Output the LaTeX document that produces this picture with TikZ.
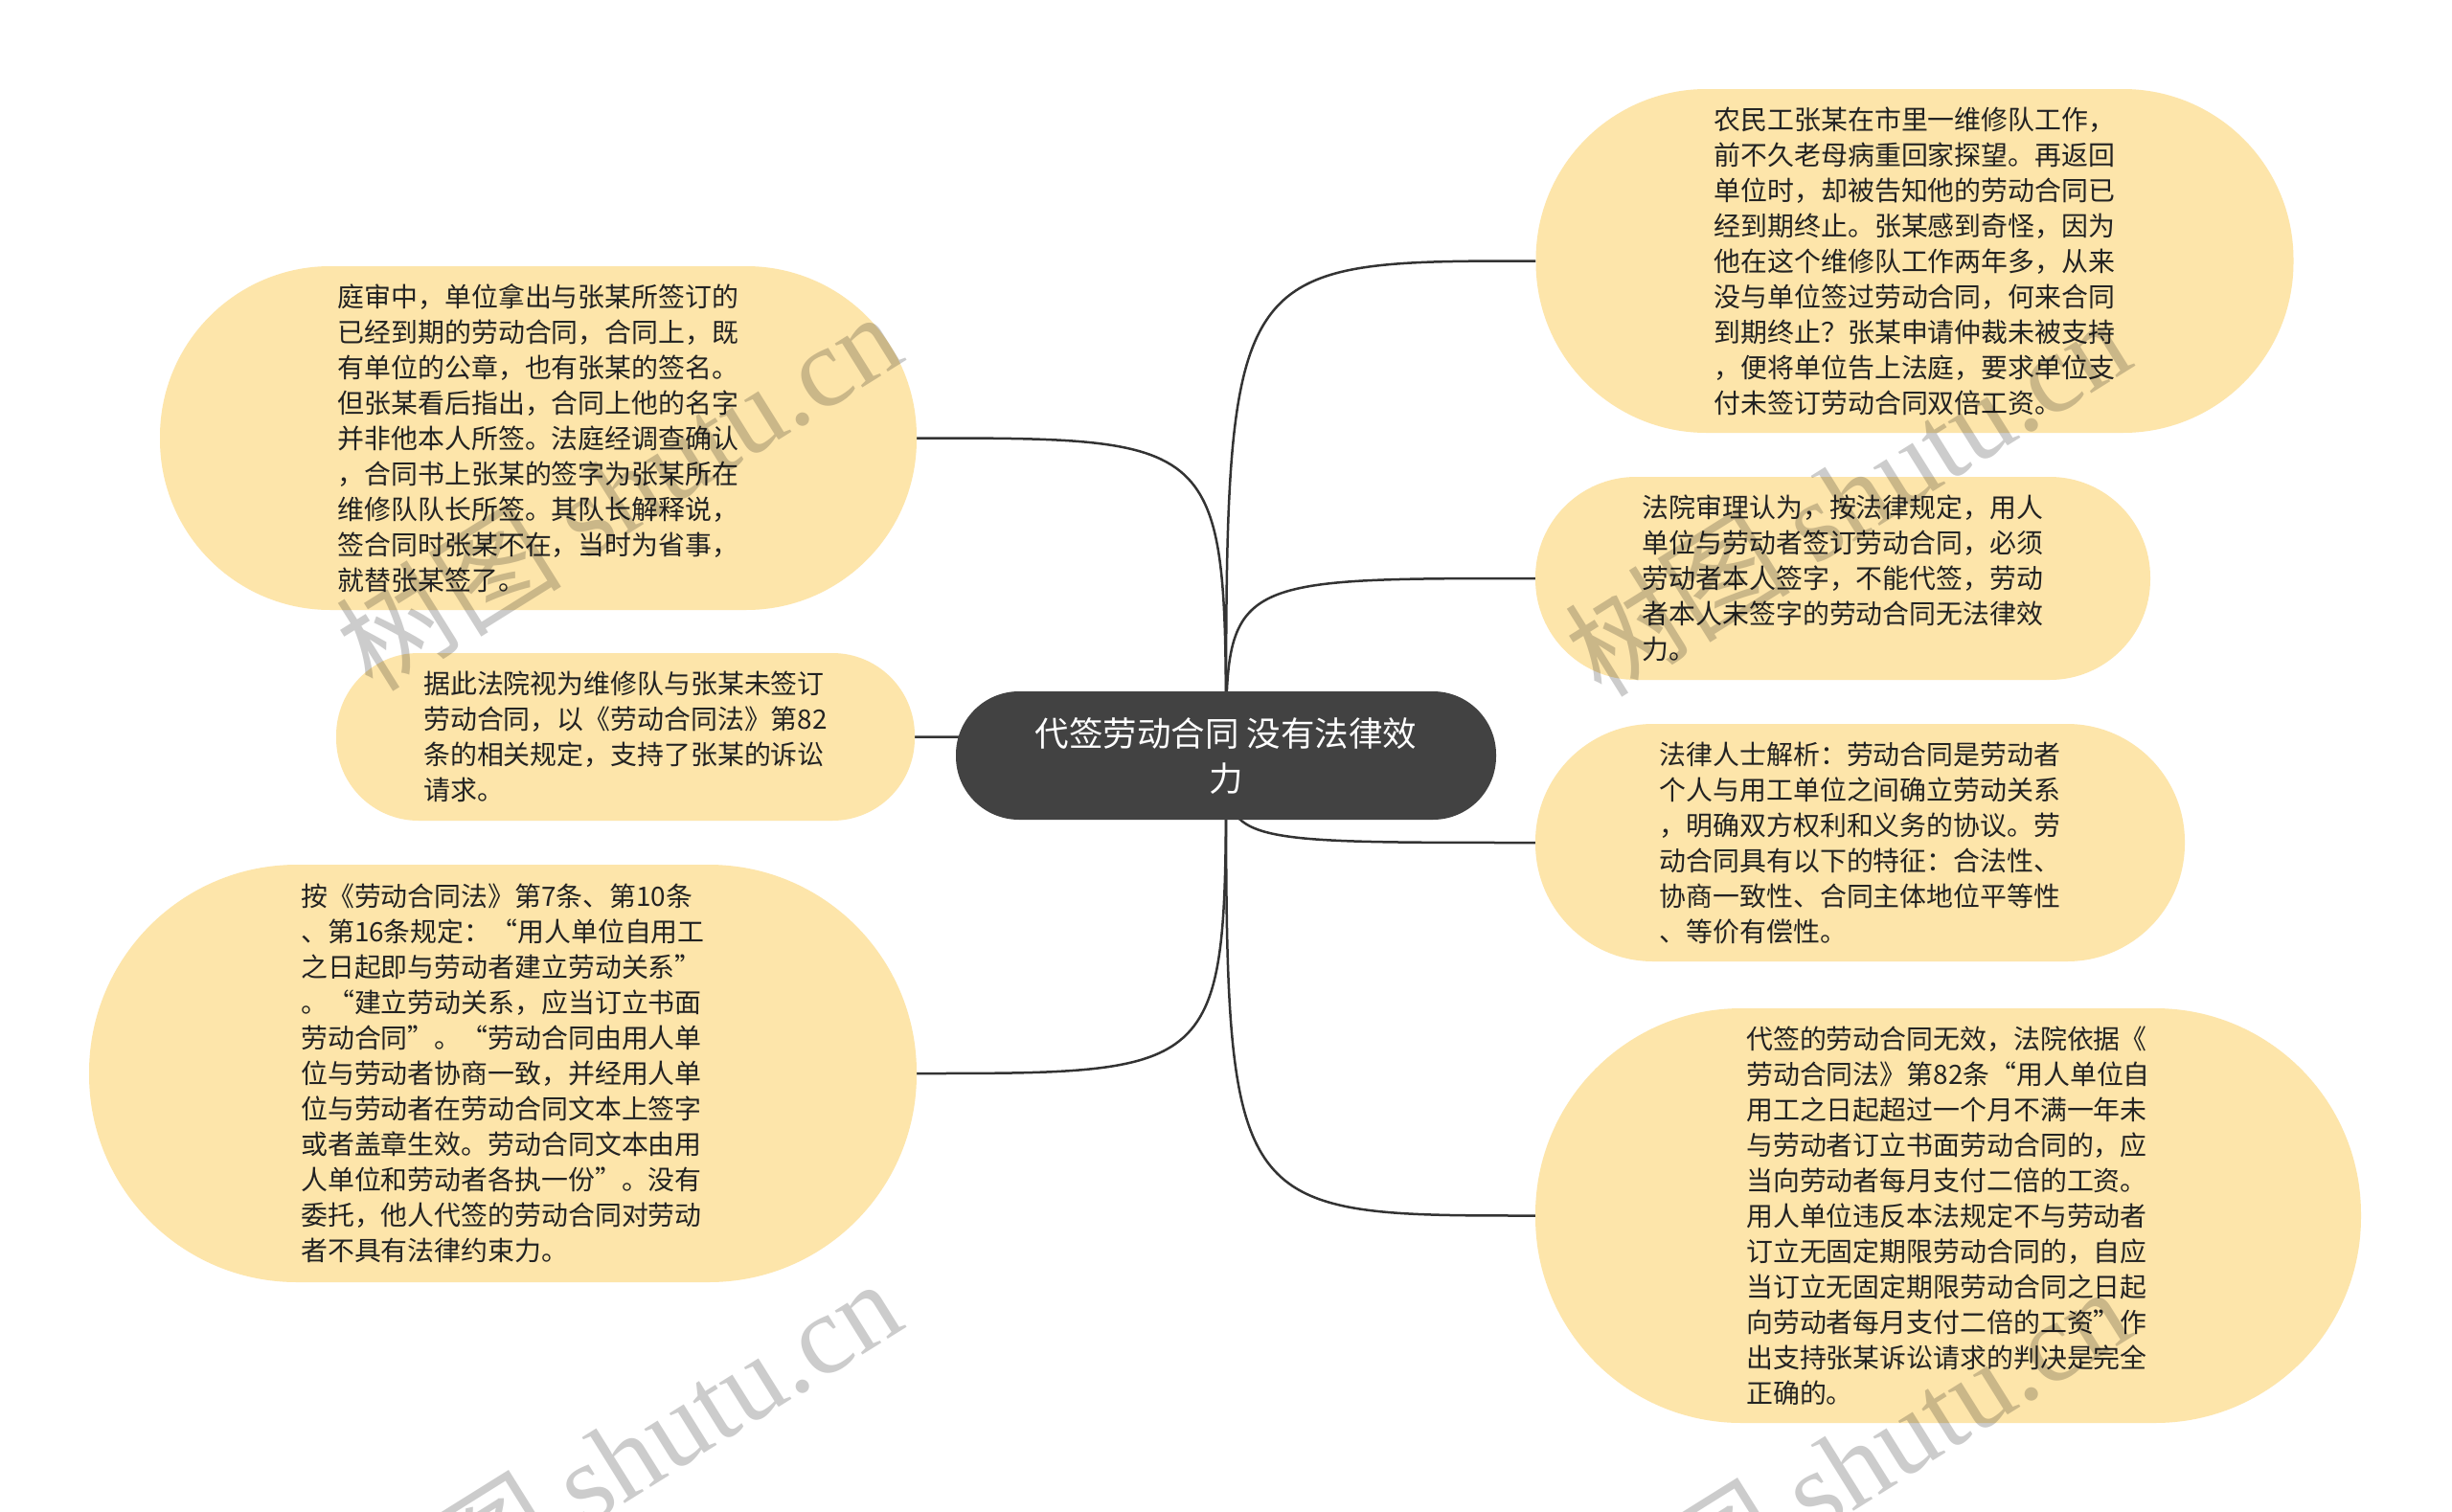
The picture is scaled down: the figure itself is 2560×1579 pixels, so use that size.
\documentclass[tikz,border=0pt]{standalone}
\usepackage{fontspec}
\setmainfont{Noto Sans CJK SC}
\newfontfamily\wmserif{Liberation Serif}
\usetikzlibrary{backgrounds}
\definecolor{nodefill}{RGB}{253,229,170}
\definecolor{rootfill}{RGB}{66,66,66}
\definecolor{linecol}{RGB}{51,51,51}
\definecolor{txtcol}{RGB}{34,34,34}
\begin{document}
\begin{tikzpicture}[x=1pt,y=-1pt,
  leaf/.style={rectangle, fill=nodefill, text=txtcol, align=left, inner sep=0pt,
    font=\fontsize{27.9}{37}\selectfont},
  root/.style={rectangle, fill=rootfill, text=white, align=center, inner sep=0pt,
    font=\fontsize{35.5}{47}\selectfont, minimum width=564pt, minimum height=134pt,
    rounded corners=66pt},
  link/.style={draw=linecol, line width=2.5pt},
  wm/.style={rotate=32, text=black, opacity=0.2, inner sep=0pt,
    font=\fontsize{118}{118}\selectfont}]
\useasboundingbox (0,0) rectangle (2560,1579);
\clip (0,0) rectangle (2560,1579);

\node[root] (c) at (1280,789) {代签劳动合同 没有法律效\\力};

\node[leaf, minimum width=791pt, minimum height=359pt, rounded corners=178pt] (tr) at (1999,272.5)
{农民工张某在市里一维修队工作，\\前不久老母病重回家探望。再返回\\单位时，却被告知他的劳动合同已\\经到期终止。张某感到奇怪，因为\\他在这个维修队工作两年多，从来\\没与单位签过劳动合同，何来合同\\到期终止？张某申请仲裁未被支持\\，便将单位告上法庭，要求单位支\\付未签订劳动合同双倍工资。};

\node[leaf, minimum width=642pt, minimum height=212pt, rounded corners=105pt] (r2) at (1924,604)
{法院审理认为，按法律规定，用人\\单位与劳动者签订劳动合同，必须\\劳动者本人签字，不能代签，劳动\\者本人未签字的劳动合同无法律效\\力。};

\node[leaf, minimum width=678pt, minimum height=248pt, rounded corners=123pt] (r3) at (1942,880)
{法律人士解析：劳动合同是劳动者\\个人与用工单位之间确立劳动关系\\，明确双方权利和义务的协议。劳\\动合同具有以下的特征：合法性、\\协商一致性、合同主体地位平等性\\、等价有偿性。};

\node[leaf, minimum width=862pt, minimum height=433pt, rounded corners=215pt] (r4) at (2034,1269.5)
{代签的劳动合同无效，法院依据《\\劳动合同法》第82条“用人单位自\\用工之日起超过一个月不满一年未\\与劳动者订立书面劳动合同的，应\\当向劳动者每月支付二倍的工资。\\用人单位违反本法规定不与劳动者\\订立无固定期限劳动合同的，自应\\当订立无固定期限劳动合同之日起\\向劳动者每月支付二倍的工资”作\\出支持张某诉讼请求的判决是完全\\正确的。};

\node[leaf, minimum width=790pt, minimum height=359pt, rounded corners=178pt] (l1) at (562,457.5)
{庭审中，单位拿出与张某所签订的\\已经到期的劳动合同，合同上，既\\有单位的公章，也有张某的签名。\\但张某看后指出，合同上他的名字\\并非他本人所签。法庭经调查确认\\，合同书上张某的签字为张某所在\\维修队队长所签。其队长解释说，\\签合同时张某不在，当时为省事，\\就替张某签了。};

\node[leaf, minimum width=604pt, minimum height=175pt, rounded corners=86pt] (l2) at (653,769.5)
{据此法院视为维修队与张某未签订\\劳动合同，以《劳动合同法》第82\\条的相关规定，支持了张某的诉讼\\请求。};

\node[leaf, minimum width=864pt, minimum height=436pt, rounded corners=217pt] (l3) at (525,1121)
{按《劳动合同法》第7条、第10条\\、第16条规定：“用人单位自用工\\之日起即与劳动者建立劳动关系”\\。“建立劳动关系，应当订立书面\\劳动合同”。“劳动合同由用人单\\位与劳动者协商一致，并经用人单\\位与劳动者在劳动合同文本上签字\\或者盖章生效。劳动合同文本由用\\人单位和劳动者各执一份”。没有\\委托，他人代签的劳动合同对劳动\\者不具有法律约束力。};

\begin{scope}[on background layer]
\fill[white] (0,0) rectangle (2560,1579);
\draw[link] (c.center) .. controls (c.center |- tr.west) .. (tr.west);
\draw[link] (c.center) .. controls (c.center |- r2.west) .. (r2.west);
\draw[link] (c.center) .. controls (c.center |- r3.west) .. (r3.west);
\draw[link] (c.center) .. controls (c.center |- r4.west) .. (r4.west);
\draw[link] (c.center) .. controls (c.center |- l1.east) .. (l1.east);
\draw[link] (c.center) .. controls (c.center |- l2.east) .. (l2.east);
\draw[link] (c.center) .. controls (c.center |- l3.east) .. (l3.east);
\end{scope}

\node[wm] (w1) at (645,512) {树图 {\wmserif shutu.cn}};
\node[wm] (w2) at (1928,518) {树图 {\wmserif shutu.cn}};
\node[wm] (w3) at (645,1522) {树图 {\wmserif shutu.cn}};
\node[wm] (w4) at (1928,1530) {树图 {\wmserif shutu.cn}};
\end{tikzpicture}
\end{document}
